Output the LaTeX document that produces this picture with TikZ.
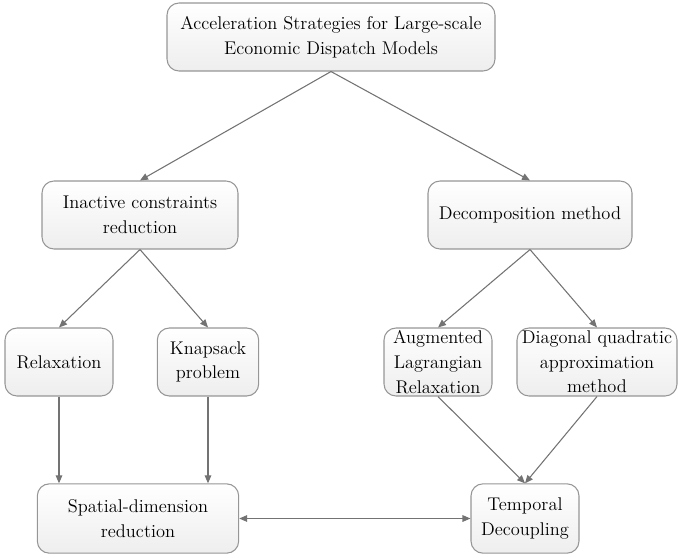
\documentclass[tikz,border=0pt]{standalone}
\usepackage{tikz}
\usetikzlibrary{arrows.meta,positioning}
\usepackage{xcolor}
\definecolor{boxline}{RGB}{150,150,150}
\definecolor{boxshade}{RGB}{238,238,238}
\definecolor{linkcol}{RGB}{115,115,115}
\tikzset{
  box/.style={rounded corners=9pt,draw=boxline,line width=.8pt,top color=white,
              bottom color=boxshade,align=center,inner sep=1pt,text=black,
              font=\fontsize{13.8}{18.5}\selectfont},
  link/.style={-{Triangle[length=6pt,width=5pt]},draw=linkcol,line width=.8pt},
  twoway/.style={{Triangle[length=6pt,width=5pt]}-{Triangle[length=6pt,width=5pt]},
                 draw=linkcol,line width=.8pt},
}

\begin{document}
\begin{tikzpicture}[x=.75pt,y=-.75pt]
  \useasboundingbox (0,0) rectangle (678,557);
  % --- root
  \node[box,minimum width=246pt,minimum height=51pt] (root) at (331,37)
    {Acceleration Strategies for Large-scale\\Economic Dispatch Models};
  % --- two families
  \node[box,minimum width=147pt,minimum height=51pt] (inact) at (140,215)
    {Inactive constraints\\reduction};
  \node[box,minimum width=153pt,minimum height=51pt] (decomp) at (530,215)
    {Decomposition method};
  % --- methods
  \node[box,minimum width=81pt,minimum height=51pt] (relax) at (59,362) {Relaxation};
  \node[box,minimum width=76pt,minimum height=51pt] (knap) at (208,362) {Knapsack\\problem};
  \node[box,minimum width=81pt,minimum height=51pt,inner sep=0pt] (alr) at (438,362)
    {Augmented\\Lagrangian\\Relaxation};
  \node[box,minimum width=120pt,minimum height=51pt,inner sep=0pt] (dqa) at (597,362)
    {Diagonal quadratic\\approximation\\method};
  % --- outcomes
  \node[box,minimum width=151pt,minimum height=52pt] (spatial) at (138,518.5)
    {Spatial-dimension\\reduction};
  \node[box,minimum width=81pt,minimum height=52pt] (temporal) at (525,518.5)
    {Temporal\\Decoupling};
  % --- links
  \draw[link] (root.south) -- (inact.north);
  \draw[link] (root.south) -- (decomp.north);
  \draw[link] (inact.south) -- (relax.north);
  \draw[link] (inact.south) -- (knap.north);
  \draw[link] (decomp.south) -- (alr.north);
  \draw[link] (decomp.south) -- (dqa.north);
  \draw[link] (relax.south) -- (relax.south |- spatial.north);
  \draw[link] (knap.south) -- (knap.south |- spatial.north);
  \draw[link] (alr.south) -- (temporal.north);
  \draw[link] (dqa.south) -- (temporal.north);
  \draw[twoway] (spatial.east) -- (temporal.west);
\end{tikzpicture}
\end{document}
